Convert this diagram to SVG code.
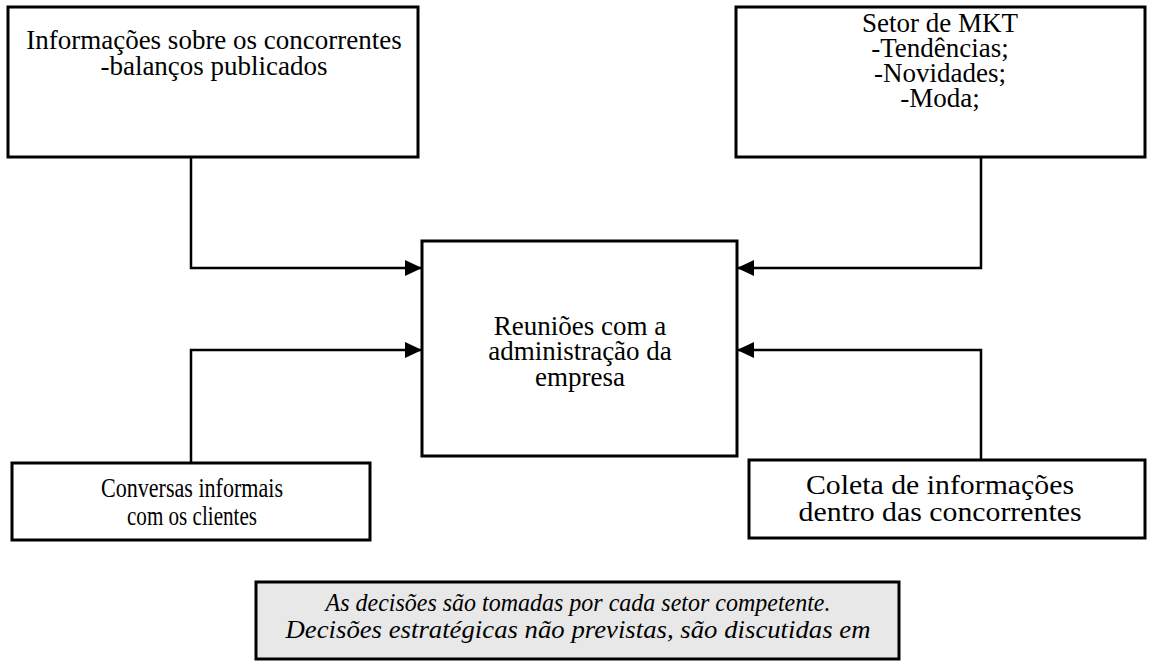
<svg xmlns="http://www.w3.org/2000/svg" width="1156" height="661" viewBox="0 0 1156 661">
<style>
.box{fill:#fff;stroke:#000;stroke-width:3}
.note{fill:#e8e8e8;stroke:#000;stroke-width:3}
text{font-family:'Liberation Serif','DejaVu Serif',serif;fill:#000;text-anchor:middle}
.t{font-size:27px}
.ti{font-size:26px;font-style:italic}
.c{fill:none;stroke:#000;stroke-width:2.5}
</style>
<defs>
<marker id="arr" markerWidth="17" markerHeight="16" refX="16" refY="8" orient="auto" markerUnits="userSpaceOnUse">
<path d="M0,0 L17,8 L0,16 Z" fill="#000"/>
</marker>
</defs>
<rect width="1156" height="661" fill="#fff"/>
<g id="connectors">
<polyline class="c" points="191,158 191,268 421,268" marker-end="url(#arr)"/>
<polyline class="c" points="981,158 981,268 738,268" marker-end="url(#arr)"/>
<polyline class="c" points="191,463 191,350 421,350" marker-end="url(#arr)"/>
<polyline class="c" points="981,460 981,350 738,350" marker-end="url(#arr)"/>
</g>
<g id="concorrentes">
<rect class="box" x="8" y="7" width="410" height="150"/>
<text class="t" x="214" y="49" font-family="Liberation Serif">Informações sobre os concorrentes</text>
<text class="t" x="214" y="75" font-family="Liberation Serif">-balanços publicados</text>
</g>
<g id="mkt">
<rect class="box" x="736" y="7" width="409" height="150"/>
<text class="t" x="940" y="32" font-family="Liberation Serif">Setor de MKT</text>
<text class="t" x="940" y="57" font-family="Liberation Serif">-Tendências;</text>
<text class="t" x="940" y="82" font-family="Liberation Serif">-Novidades;</text>
<text class="t" x="940" y="107" font-family="Liberation Serif">-Moda;</text>
</g>
<g id="reunioes">
<rect class="box" x="422" y="241" width="315" height="215"/>
<text class="t" x="580" y="335" font-family="Liberation Serif">Reuniões com a</text>
<text class="t" x="580" y="360" font-family="Liberation Serif">administração da</text>
<text class="t" x="580" y="386" font-family="Liberation Serif">empresa</text>
</g>
<g id="conversas">
<rect class="box" x="12" y="463" width="358" height="77"/>
<text class="t" x="192" y="497" font-family="Liberation Serif" textLength="182" lengthAdjust="spacingAndGlyphs">Conversas informais</text>
<text class="t" x="192" y="525" font-family="Liberation Serif" textLength="130" lengthAdjust="spacingAndGlyphs">com os clientes</text>
</g>
<g id="coleta">
<rect class="box" x="749" y="460" width="396" height="78"/>
<text class="t" x="940" y="494" font-family="Liberation Serif" textLength="268" lengthAdjust="spacingAndGlyphs">Coleta de informações</text>
<text class="t" x="940" y="521" font-family="Liberation Serif" textLength="283" lengthAdjust="spacingAndGlyphs">dentro das concorrentes</text>
</g>
<g id="decisoes">
<rect class="note" x="256" y="582" width="643" height="77"/>
<text class="ti" x="578" y="611" font-family="Liberation Serif" textLength="505" lengthAdjust="spacingAndGlyphs">As decisões são tomadas por cada setor competente.</text>
<text class="ti" x="578" y="638" font-family="Liberation Serif" textLength="585" lengthAdjust="spacingAndGlyphs">Decisões estratégicas não previstas, são discutidas em</text>
</g>
</svg>
